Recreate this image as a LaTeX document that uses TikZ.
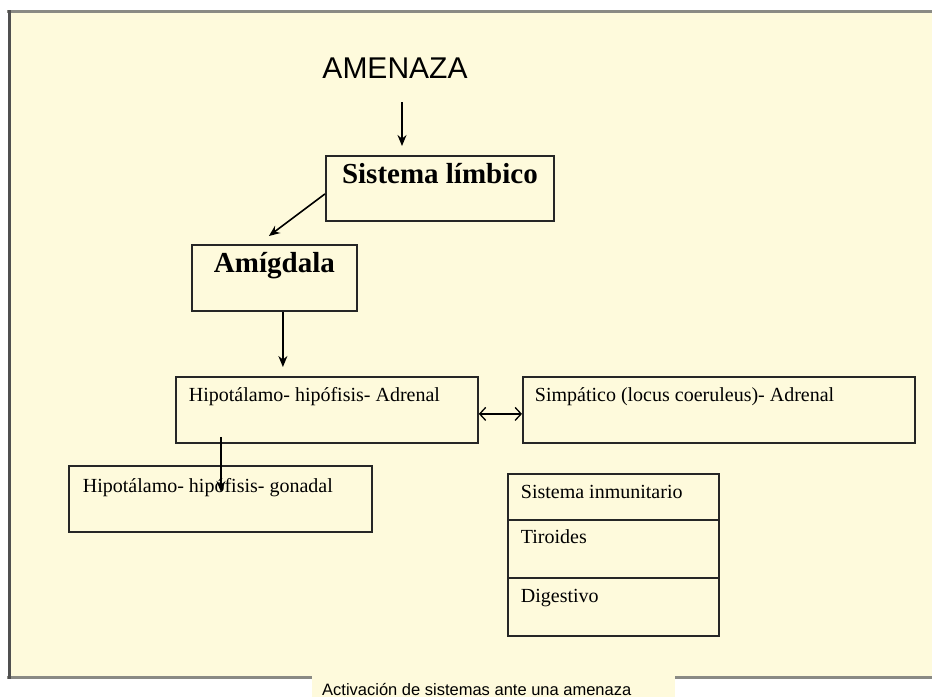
\documentclass[tikz,border=0pt]{standalone}
\usepackage{fontspec}
\setmainfont{Liberation Serif}
\newfontfamily\arialf{Liberation Sans}
\usetikzlibrary{arrows.meta}
\definecolor{cream}{HTML}{FEFADC}
\definecolor{frameg}{HTML}{8A8A84}
\definecolor{framed}{HTML}{505050}
% #1 width, #2 height, #3 format, #4 baseline offset from top, #5 text
\newcommand\boxtext[5]{\parbox[c][#2][t]{#1}{#3\rule{0pt}{#4}#5}}
\begin{document}
\begin{tikzpicture}[x=1pt,y=-1pt,
  tbox/.style={draw=black!85, line width=1.8pt, inner sep=0pt, anchor=north west},
  bigb/.style={font=\fontsize{29}{32}\selectfont\bfseries},
  regt/.style={font=\fontsize{20}{22}\selectfont},
  arr/.style={line width=1.6pt, -{Stealth[length=11pt,width=9pt]}},
  dbl/.style={line width=1.3pt, {Straight Barb[length=6pt,width=13pt]}-{Straight Barb[length=6pt,width=13pt]}}]
\useasboundingbox (0,0) rectangle (932,697);
% panel
\fill[cream] (9,11) rectangle (940,677);
\draw[frameg, line width=3pt] (7,11) -- (940,11);
\draw[frameg, line width=3.5pt] (7,677.5) -- (940,677.5);
\draw[framed, line width=2.5pt] (9.5,10) -- (9.5,679);
\fill[cream] (312,675) rectangle (675,697);
% texts
\node[font=\arialf\fontsize{30}{34}\selectfont, anchor=base, inner sep=0pt] (amenaza) at (395,78) {AMENAZA};
\node[anchor=base west, inner sep=0pt, font=\arialf\fontsize{16.5}{18}\selectfont] (caption) at (322,695) {Activación de sistemas ante una amenaza};
% boxes
\node[tbox, bigb] (sl) at (325,155) {\boxtext{228pt}{65pt}{\centering}{28pt}{Sistema límbico}};
\node[tbox, bigb] (am) at (191,244) {\boxtext{165pt}{66pt}{\centering}{28pt}{Amígdala}};
\node[tbox, regt] (hha) at (175,376) {\boxtext{302pt}{66pt}{\hspace*{13pt}}{25pt}{Hipotálamo- hipófisis- Adrenal}};
\node[tbox, regt] (sim) at (522,376) {\boxtext{392pt}{66pt}{\hspace*{12pt}}{25pt}{Simpático (locus coeruleus)- Adrenal}};
\node[tbox, regt] (hhg) at (68,465) {\boxtext{303pt}{66pt}{\hspace*{14pt}}{27pt}{Hipotálamo- hipófisis- gonadal}};
\node[tbox, regt] (inm) at (507,473) {\boxtext{211pt}{46pt}{\hspace*{13pt}}{25pt}{Sistema inmunitario}};
\node[tbox, regt] (tir) at (507,519) {\boxtext{211pt}{58pt}{\hspace*{13pt}}{24pt}{Tiroides}};
\node[tbox, regt] (dig) at (507,577) {\boxtext{211pt}{58pt}{\hspace*{13pt}}{25pt}{Digestivo}};
% connectors
\draw[arr, shorten <=24pt, shorten >=9pt] ([xshift=7pt]amenaza.south) -- ([xshift=7pt]amenaza.south |- sl.north);
\draw[arr] ([yshift=-5.5pt]sl.west) -- ([xshift=-5.5pt,yshift=8pt]am.north);
\draw[arr, shorten >=9pt] ([xshift=8.5pt]am.south) -- ([xshift=8.5pt]am.south |- hha.north);
\coordinate (s1) at ([xshift=46pt,yshift=7pt]hha.south west);
\coordinate (e1) at (s1 |- hhg.north);
\draw[arr] (s1) -- ([yshift=-27pt]e1);
\draw[dbl] ([yshift=-4pt]hha.east) -- ([yshift=-4pt]sim.west);
\end{tikzpicture}
\end{document}
